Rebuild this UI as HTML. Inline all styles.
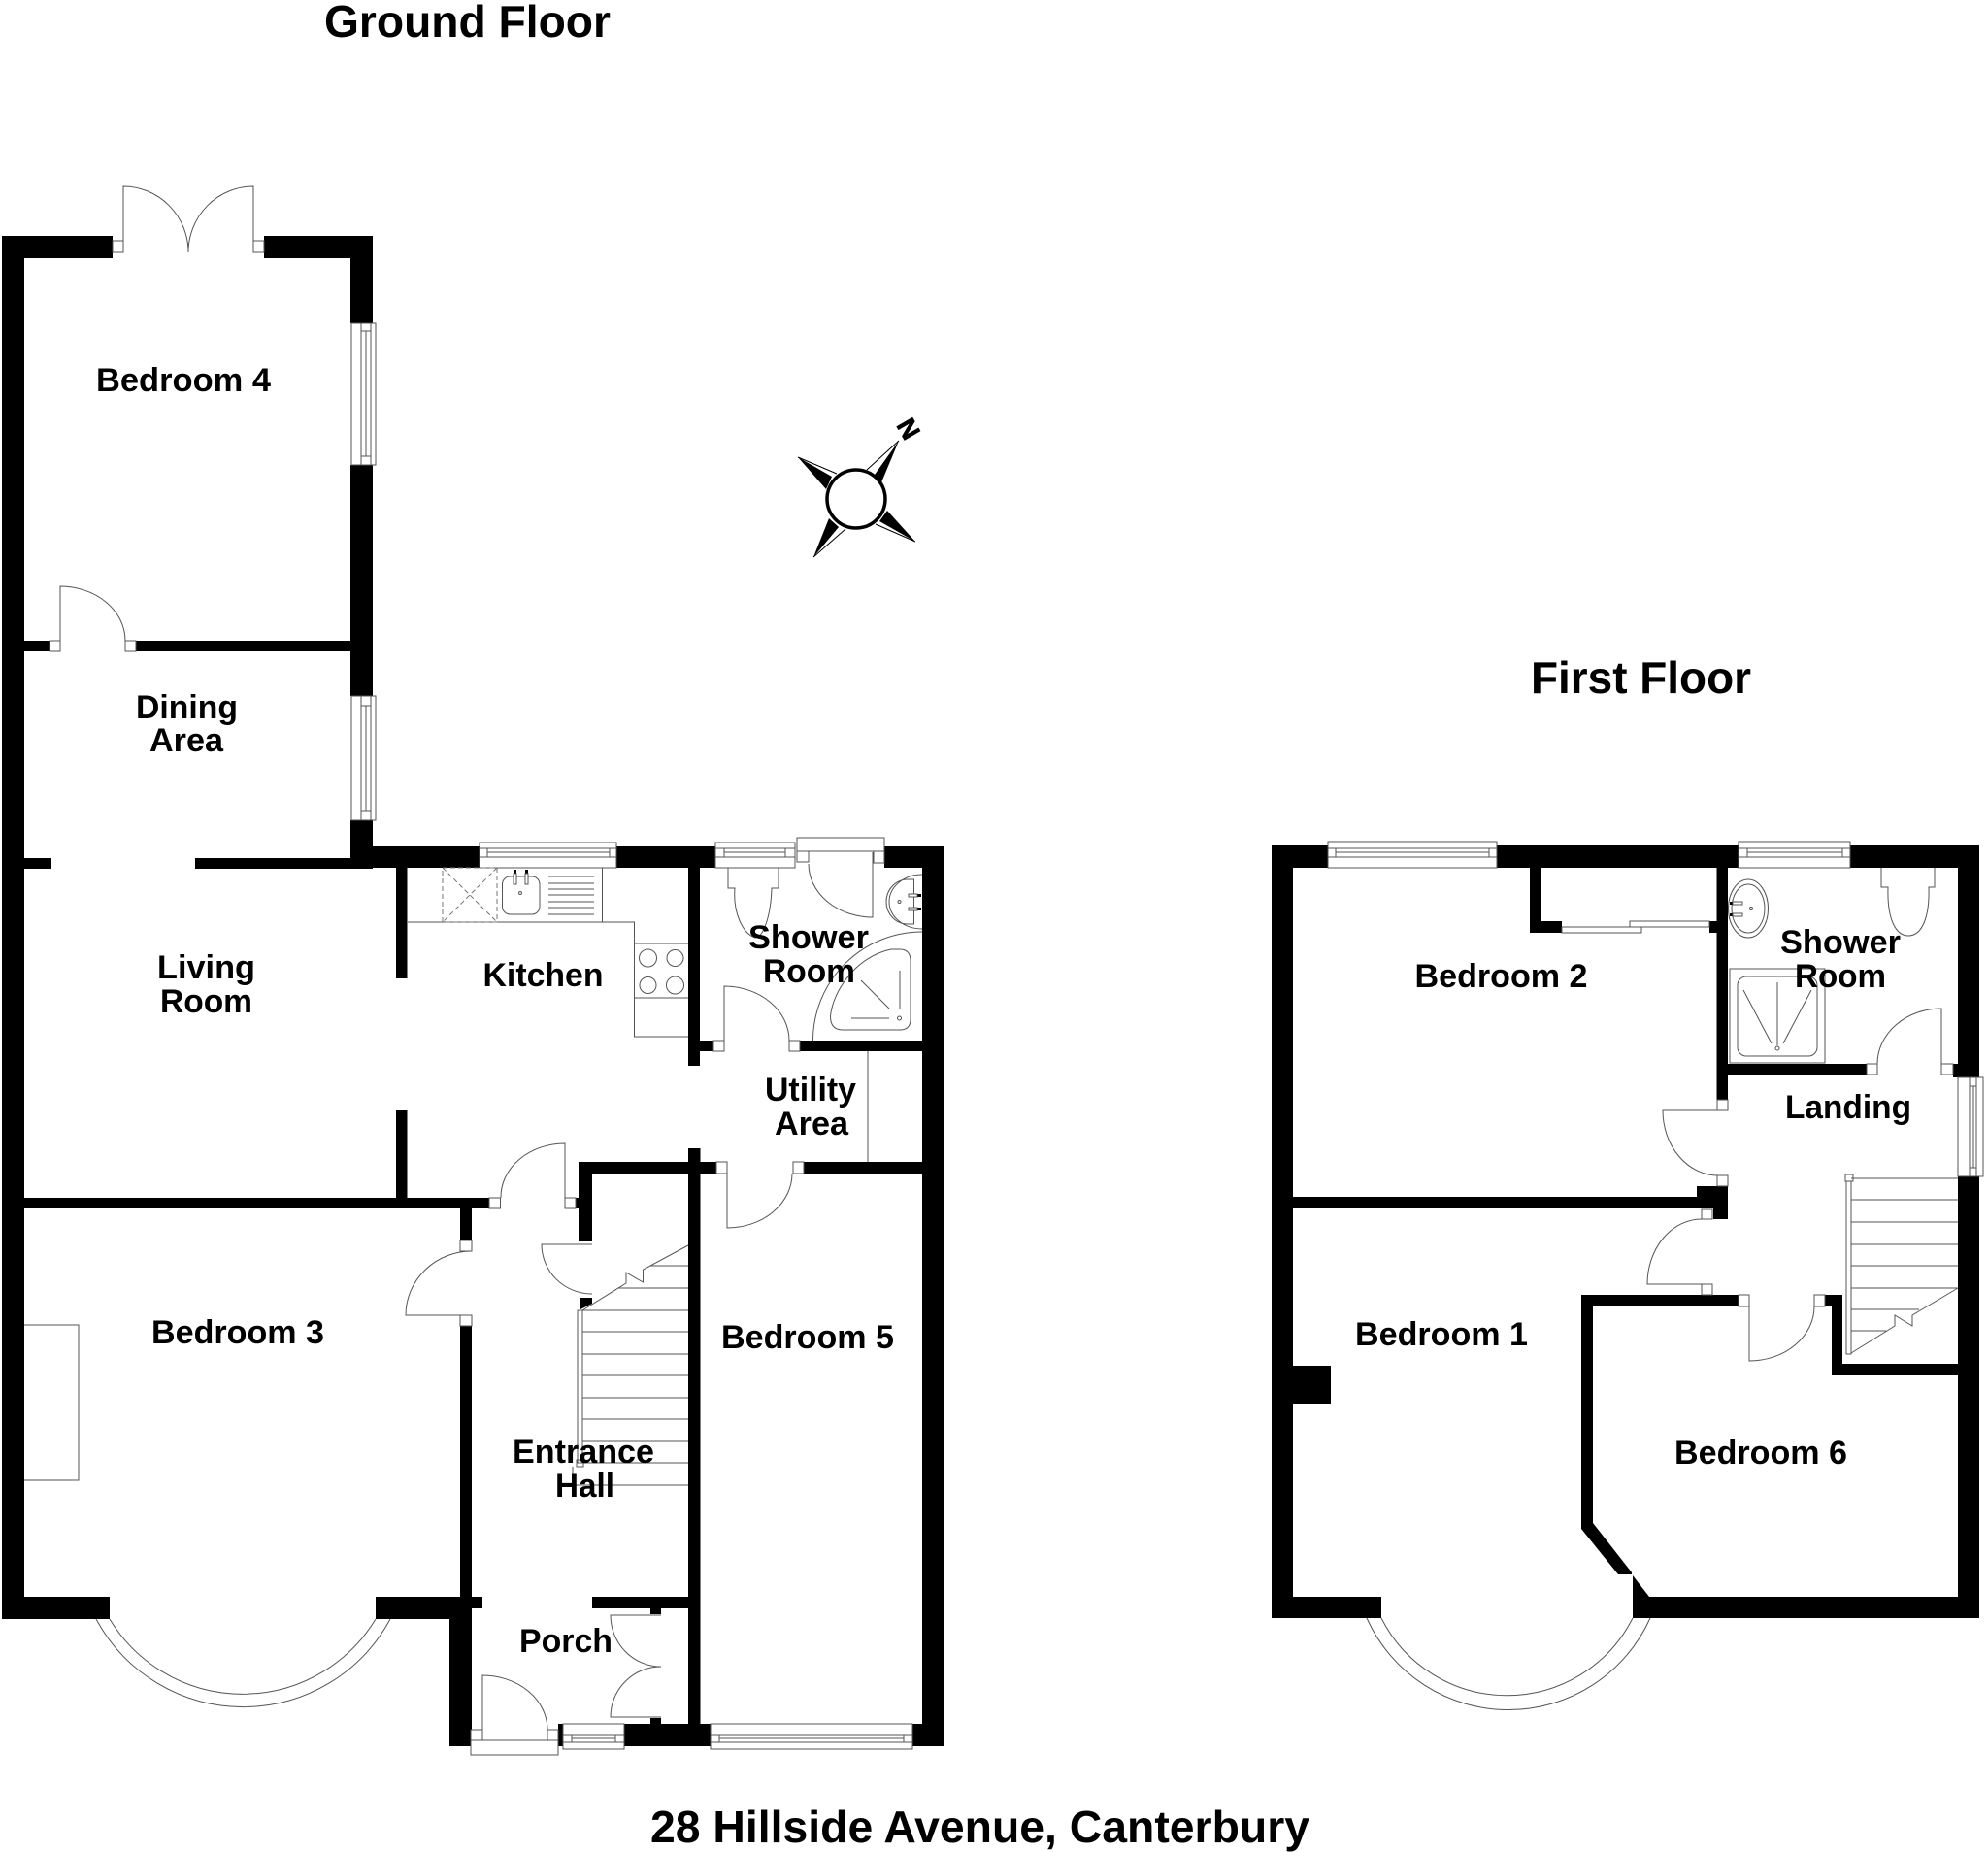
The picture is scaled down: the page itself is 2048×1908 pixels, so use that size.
<!DOCTYPE html>
<html><head><meta charset="utf-8"><title>28 Hillside Avenue, Canterbury</title>
<style>html,body{margin:0;padding:0;background:#fff}svg{display:block}
text{font-family:"Liberation Sans",Arial,sans-serif;font-weight:bold;fill:#000}
.r{font-size:34.5px}.t{font-size:46px}
.l{fill:none;stroke:#555;stroke-width:1}.w{fill:#fff;stroke:#555;stroke-width:1}.d{fill:none;stroke:#777;stroke-width:1;stroke-dasharray:5 3}</style></head>
<body>
<svg width="2048" height="1908" viewBox="0 0 2048 1908" xmlns="http://www.w3.org/2000/svg">
<rect width="2048" height="1908" fill="#fff"/>
<!-- GROUND FLOOR WALLS -->
<g fill="#000">
<rect x="2" y="243" width="23" height="1425"/>
<rect x="2" y="243" width="114" height="23"/>
<rect x="272" y="243" width="112" height="23"/>
<rect x="361" y="243" width="23" height="90"/>
<rect x="361" y="479" width="23" height="238"/>
<rect x="361" y="845" width="23" height="50"/>
<rect x="25" y="660" width="26" height="11"/>
<rect x="140" y="660" width="221" height="11"/>
<rect x="25" y="884" width="28" height="11"/>
<rect x="201" y="884" width="183" height="11"/>
<rect x="384" y="872" width="110" height="22"/>
<rect x="635" y="872" width="102" height="22"/>
<rect x="911" y="872" width="62" height="22"/>
<rect x="950" y="872" width="23" height="927"/>
<rect x="408" y="894" width="11.500" height="114"/>
<rect x="408" y="1144" width="11.500" height="90"/>
<rect x="709" y="894" width="12" height="204"/>
<rect x="721" y="1072" width="14" height="11"/>
<rect x="824" y="1072" width="126" height="11"/>
<rect x="596" y="1197" width="142" height="12"/>
<rect x="828" y="1197" width="122" height="12"/>
<rect x="709" y="1183" width="12.500" height="593"/>
<rect x="596" y="1197" width="14" height="82"/>
<polygon points="598,1337 610,1337 610,1343 598,1349"/>
<rect x="25" y="1234" width="479" height="11"/>
<rect x="593" y="1234" width="3" height="11"/>
<rect x="474" y="1245" width="12" height="33"/>
<rect x="474" y="1366" width="12" height="280"/>
<rect x="2" y="1645" width="111" height="23"/>
<rect x="387" y="1645" width="110" height="12"/>
<rect x="387" y="1645" width="99" height="23"/>
<rect x="463" y="1645" width="23" height="154"/>
<rect x="610" y="1645" width="100" height="12"/>
<rect x="670" y="1657" width="11" height="6"/>
<rect x="670" y="1770" width="11" height="6"/>
<rect x="575" y="1776" width="5" height="23"/>
<rect x="643" y="1776" width="89" height="23"/>
<rect x="940" y="1776" width="33" height="23"/>
<!-- FIRST FLOOR WALLS -->
<rect x="1310" y="871" width="22" height="796"/>
<rect x="1310" y="871" width="58" height="23"/>
<rect x="1542" y="871" width="249" height="23"/>
<rect x="1906" y="871" width="133" height="23"/>
<rect x="2017" y="871" width="22" height="239"/>
<rect x="2017" y="1212" width="22" height="455"/>
<rect x="1310" y="1645" width="113" height="22"/>
<rect x="1682" y="1645" width="357" height="22"/>
<rect x="1576" y="894" width="12" height="67"/>
<rect x="1576" y="949" width="33" height="12"/>
<rect x="1761" y="949" width="8" height="12"/>
<rect x="1768.500" y="894" width="11.500" height="239"/>
<rect x="1780" y="1096" width="143" height="11"/>
<rect x="2012" y="1096" width="5" height="14"/>
<rect x="1332" y="1233" width="448" height="12"/>
<rect x="1748" y="1222" width="32" height="23"/>
<rect x="1765" y="1245" width="15" height="11"/>
<rect x="1629" y="1334" width="162" height="12"/>
<rect x="1880" y="1334" width="18" height="12"/>
<rect x="1887" y="1334" width="11" height="83"/>
<rect x="1887" y="1405" width="130" height="12"/>
<rect x="1332" y="1407" width="39" height="39"/>
<polygon points="1629,1334 1641,1334 1641,1569 1681,1620 1681,1622 1667,1622 1629,1575"/>
<polygon points="1682,1623 1699,1645 1699,1667 1682,1667"/>
</g>
<!-- door jamb ticks -->
<g class="w">
<rect x="116" y="248" width="11" height="12"/><rect x="261" y="248" width="11" height="12"/>
<rect x="51" y="660" width="11" height="11"/><rect x="129" y="660" width="11" height="11"/>
<rect x="504" y="1234" width="11.500" height="11"/><rect x="582" y="1234" width="11" height="11"/>
<rect x="474" y="1278" width="12" height="11"/><rect x="474" y="1355" width="12" height="11"/>
<rect x="735" y="1072" width="11" height="11"/><rect x="813" y="1072" width="11" height="11"/>
<rect x="738" y="1197" width="11" height="12"/><rect x="817" y="1197" width="11" height="12"/>
<rect x="485" y="1782" width="12" height="11"/><rect x="564" y="1782" width="11" height="11"/>
<rect x="485" y="1793" width="90" height="15"/>
<rect x="821" y="877" width="12" height="11"/><rect x="900" y="877" width="11" height="12"/>
<rect x="1769" y="1133" width="11" height="11"/><rect x="1769" y="1211" width="11" height="11"/>
<rect x="1753" y="1246" width="11" height="10"/><rect x="1753" y="1323" width="11" height="11"/>
<rect x="1791" y="1334" width="11" height="12"/><rect x="1869" y="1334" width="11" height="12"/>
<rect x="1923" y="1096" width="11" height="11"/><rect x="2000" y="1096" width="12" height="11"/>
</g>
<!-- door leaves -->
<g class="l">
<path d="M127 248V192A67 68 0 0 1 194 260"/><path d="M261 248V192A67 68 0 0 0 194 260"/>
<path d="M62 660V604A67 56 0 0 1 129 660"/>
<path d="M582 1234V1178A66 55 0 0 0 516 1234"/>
<path d="M486 1355H418A68 66 0 0 1 486 1289"/>
<path d="M746 1072V1016A67 56 0 0 1 813 1072"/>
<path d="M749 1209V1265A67 56 0 0 0 816 1209"/>
<path d="M610 1282H558A52 51 0 0 0 610 1333"/>
<path d="M681 1664H629A52 53 0 0 0 681 1717A52 52 0 0 0 629 1769H681"/>
<path d="M497 1782V1726A67 56 0 0 1 564 1782"/>
<path d="M833 888V877H900M899 878V945A66 55 0 0 1 833 890"/>
<path d="M1780 1144H1713A57 67 0 0 0 1770 1211"/>
<path d="M1764 1323H1697A56 67 0 0 1 1753 1256"/>
<path d="M1802 1346V1402A67 56 0 0 0 1869 1346"/>
<path d="M2000 1096V1039A66 57 0 0 0 1934 1096"/>
</g>
<!-- windows -->
<g class="w">
<rect x="362" y="333" width="25" height="146"/><rect x="372" y="333" width="10" height="146"/><rect x="372" y="341" width="10" height="129"/>
<rect x="362" y="717" width="25" height="128"/><rect x="372" y="717" width="10" height="128"/><rect x="372" y="727" width="10" height="109"/>
<rect x="2017" y="1110" width="26" height="102"/><rect x="2029" y="1110" width="7" height="102"/><rect x="2029" y="1119" width="7" height="84"/>
<rect x="494" y="868" width="141" height="26"/><rect x="494" y="874" width="141" height="9"/><rect x="502" y="874" width="126" height="9"/>
<rect x="737" y="868" width="82" height="26"/><rect x="737" y="874" width="82" height="9"/><rect x="746" y="874" width="63" height="9"/>
<rect x="821" y="863" width="90" height="14"/>
<rect x="1368" y="867" width="174" height="27"/><rect x="1368" y="874" width="174" height="9"/><rect x="1376" y="874" width="158" height="9"/>
<rect x="1791" y="867" width="115" height="27"/><rect x="1791" y="874" width="115" height="9"/><rect x="1800" y="874" width="98" height="9"/>
<rect x="580" y="1776" width="63" height="26"/><rect x="580" y="1787" width="63" height="8"/><rect x="589" y="1787" width="45" height="8"/>
<rect x="732" y="1776" width="208" height="26"/><rect x="732" y="1787" width="208" height="8"/><rect x="741" y="1787" width="190" height="8"/>
</g>
<g class="l" stroke="#555">
<path d="M377 341V470M377 727V836M2033 1119V1203M502 878H628M746 878H809M1376 878H1534M1800 878H1898M589 1791H634M741 1791H931"/>
<!-- bays -->
<path d="M99 1668A172 172 0 0 0 402 1668"/><path d="M113 1668A160 160 0 0 0 387 1668"/>
<path d="M1408 1667A160 160 0 0 0 1700 1667"/><path d="M1423 1667A145 145 0 0 0 1682 1667"/>
<!-- fireplace -->
<path d="M25 1365H81V1525H25"/>
<!-- kitchen -->
<path d="M420 950H653.500V1068H709M620.500 894V950M653.500 972H709M653.500 1028H709"/>
<rect x="517.500" y="903" width="38.500" height="39" rx="8"/>
<circle cx="536" cy="920" r="1.500"/>
<path d="M565 903H612M565 910H612M565 916H612M565 922H612M565 929H612M565 935H612M565 942H612"/>
<circle cx="667.500" cy="987" r="9"/><circle cx="695.500" cy="987" r="8.500"/><circle cx="667.500" cy="1015" r="8.500"/><circle cx="695.500" cy="1015" r="9"/>
<path d="M894 1083V1197"/>
<!-- ground shower -->
<path d="M750 894V915H757C755 940 765 962 778 966C786 966 794 945 795 915H802V894"/>
<path d="M950 901A34 28 0 0 0 950 957M941.500 906H935A22 23 0 0 0 935 952H941.500Z"/>
<circle cx="926.500" cy="929" r="1.500"/>
<path d="M837.500 1072A112.500 112 0 0 1 950 960"/>
<path d="M918 978L927 978Q938 978 938 990V1050Q938 1061 927 1061H868Q855.500 1061 855.500 1047C858 1020 883 985 918 978Z"/>
<path d="M887 1010L916 1039M927 1000V1040M877 1049H916"/>
<circle cx="926.500" cy="1049" r="2"/>
<!-- ground stairs -->
<rect x="595" y="1350" width="5" height="157"/><rect x="594" y="1504" width="7" height="7"/>
<path d="M600 1350H709M600 1372H709M600 1395H709M600 1417H709M600 1440H709M600 1462H709M600 1485H709M600 1507H709M590 1530H709M590 1511V1530"/>
<path d="M637 1327H709M670 1304H709"/>
<path d="M600 1350L645 1322V1311L662.500 1321V1308L709 1283"/>
<!-- first floor closet sliding door -->
<rect x="1609" y="955" width="82" height="6" class="w"/><rect x="1679" y="949" width="82" height="6" class="w"/>
<!-- first shower -->
<ellipse cx="1801" cy="936" rx="20.500" ry="30"/><ellipse cx="1801" cy="936" rx="17" ry="25"/>
<circle cx="1804" cy="936" r="1.500"/>
<path d="M1938 894V914H1945C1944 945 1952 964 1966 964C1980 964 1988 945 1987 914H1993V894"/>
<rect x="1782" y="998" width="98" height="97"/>
<rect x="1790" y="1006" width="82" height="82" rx="9"/>
<path d="M1831 1012V1077M1796 1020L1825 1075M1866 1020L1837 1075"/>
<circle cx="1831" cy="1080" r="2"/>
<!-- first stairs -->
<rect x="1902" y="1217" width="5" height="178"/><rect x="1901" y="1210" width="8" height="7"/>
<path d="M1907 1214H2017M1907 1236H2017M1907 1259H2017M1907 1282H2017M1907 1304H2017M1907 1327H2017M1907 1349H1977M1907 1371H1943"/>
<path d="M1907 1394L1952 1366V1355L1970 1366V1355L2017 1327"/>
</g>
<!-- taps -->
<g fill="#000">
<rect x="529" y="896" width="3" height="4"/><rect x="541" y="896" width="3" height="4"/>
<rect x="945" y="921" width="4" height="3"/><rect x="945" y="935" width="4" height="3"/>
<rect x="1782" y="929" width="3" height="3"/><rect x="1782" y="941" width="3" height="3"/>
</g>
<g class="w"><rect x="529" y="900" width="3" height="11"/><rect x="541" y="900" width="3" height="11"/>
<rect x="936" y="921" width="9" height="3"/><rect x="936" y="935" width="9" height="3"/>
<rect x="1785" y="929" width="10" height="3"/><rect x="1785" y="941" width="10" height="3"/></g>
<rect x="456" y="894" width="56" height="56" class="d"/>
<path d="M456 894L512 950M512 894L456 950" class="d"/>
<!-- compass -->
<g>
<polygon points="926,454 901,489 908,497" fill="#000"/>
<polygon points="822,471 857,491 851,504" fill="#000"/>
<polygon points="943,558 914,526 906,537" fill="#000"/>
<polygon points="838,574 854,534 864,543" fill="#000"/>
<path d="M926 454L893 484M822 471L862 488M943 558L902 540M838 574L871 545" fill="none" stroke="#000" stroke-width="1"/>
<circle cx="882" cy="514" r="30" fill="#fff" stroke="#000" stroke-width="3.500"/>
<text x="0" y="0" font-size="27" stroke="#000" stroke-width="0.800" transform="translate(923,438) rotate(60)">N</text>
</g>
<!-- labels -->
<text class="t" x="334" y="38" textLength="295" lengthAdjust="spacingAndGlyphs">Ground Floor</text>
<text class="t" x="1577" y="714" textLength="227" lengthAdjust="spacingAndGlyphs">First Floor</text>
<text class="t" x="670" y="1898" textLength="679" lengthAdjust="spacingAndGlyphs">28 Hillside Avenue, Canterbury</text>
<g class="r">
<text x="99" y="403" textLength="180" lengthAdjust="spacingAndGlyphs">Bedroom 4</text>
<text x="140" y="740" textLength="105" lengthAdjust="spacingAndGlyphs">Dining</text>
<text x="154" y="774" textLength="76" lengthAdjust="spacingAndGlyphs">Area</text>
<text x="162" y="1008" textLength="101" lengthAdjust="spacingAndGlyphs">Living</text>
<text x="165" y="1043" textLength="95" lengthAdjust="spacingAndGlyphs">Room</text>
<text x="497.500" y="1016" textLength="124" lengthAdjust="spacingAndGlyphs">Kitchen</text>
<text x="771" y="977" textLength="124" lengthAdjust="spacingAndGlyphs">Shower</text>
<text x="786" y="1012" textLength="95" lengthAdjust="spacingAndGlyphs">Room</text>
<text x="788" y="1134" textLength="94" lengthAdjust="spacingAndGlyphs">Utility</text>
<text x="798" y="1169" textLength="76" lengthAdjust="spacingAndGlyphs">Area</text>
<text x="528" y="1507" textLength="146" lengthAdjust="spacingAndGlyphs">Entrance</text>
<text x="572" y="1542" textLength="61" lengthAdjust="spacingAndGlyphs">Hall</text>
<text x="743" y="1389" textLength="178" lengthAdjust="spacingAndGlyphs">Bedroom 5</text>
<text x="535" y="1702" textLength="96" lengthAdjust="spacingAndGlyphs">Porch</text>
<text x="156" y="1384" textLength="178" lengthAdjust="spacingAndGlyphs">Bedroom 3</text>
<text x="1457.500" y="1017" textLength="178" lengthAdjust="spacingAndGlyphs">Bedroom 2</text>
<text x="1834" y="982" textLength="124" lengthAdjust="spacingAndGlyphs">Shower</text>
<text x="1849" y="1017" textLength="94" lengthAdjust="spacingAndGlyphs">Room</text>
<text x="1839" y="1152" textLength="130" lengthAdjust="spacingAndGlyphs">Landing</text>
<text x="1725" y="1508" textLength="178" lengthAdjust="spacingAndGlyphs">Bedroom 6</text>
<text x="1396" y="1386" textLength="178" lengthAdjust="spacingAndGlyphs">Bedroom 1</text>
</g>
</svg>
</body></html>
